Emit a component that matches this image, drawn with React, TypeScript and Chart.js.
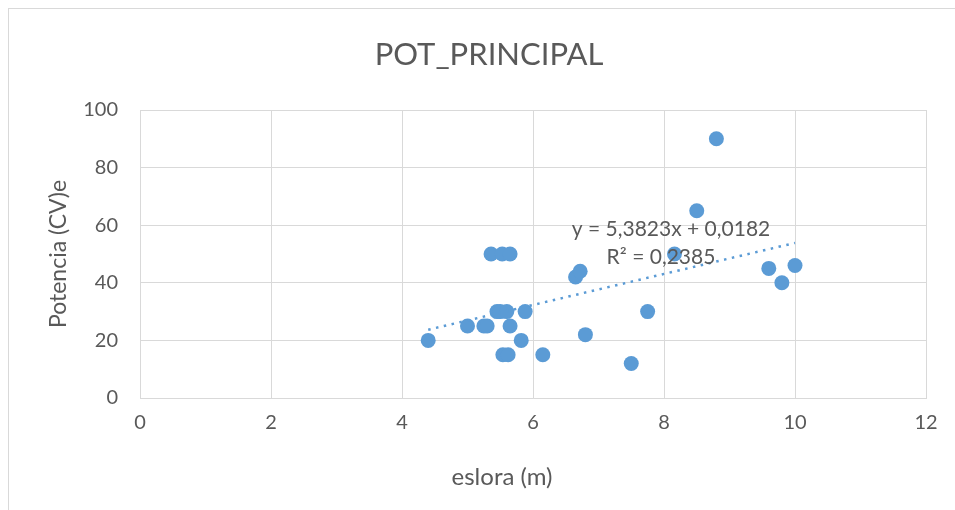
import React, { useEffect, useRef } from "react";
import { Chart, registerables } from "chart.js";

Chart.register(...registerables);

const TITLE = "POT_PRINCIPAL";
const X_TITLE = "eslora (m)";
const Y_TITLE = "Potencia (CV)e";
const EQ_LINE1 = "y = 5,3823x + 0,0182";
const EQ_LINE2 = "R² = 0,2385";

const eslora = [4.4, 5.0, 5.25, 5.3, 5.65, 5.45, 5.5, 5.6, 5.88, 5.36, 5.53, 5.65, 5.82, 5.54, 5.62, 6.15, 6.65, 6.72, 6.8, 7.5, 7.75, 8.16, 8.5, 8.8, 9.6, 9.8, 10.0];
const potencia = [20, 25, 25, 25, 25, 30, 30, 30, 30, 50, 50, 50, 20, 15, 15, 15, 42, 44, 22, 12, 30, 50, 65, 90, 45, 40, 46];

const SLOPE = 5.3823;
const INTERCEPT = 0.0182;
const TREND_X = [4.4, 10.0];

const X_MIN = 0;
const X_MAX = 12;
const X_STEP = 2;
const Y_MIN = 0;
const Y_MAX = 100;
const Y_STEP = 20;

const FONT = "Lato, 'Open Sans', sans-serif";
const TEXT_COLOR = "#595959";
const POINT_COLOR = "#5b9bd5";
const GRID_COLOR = "#d9d9d9";

const textPlugin = {
  id: "textPlugin",
  afterDraw(chart: any) {
    const ctx = chart.ctx;
    ctx.save();
    ctx.fillStyle = TEXT_COLOR;
    ctx.textAlign = "center";
    ctx.textBaseline = "middle";
    ctx.font = `31px ${FONT}`;
    ctx.fillText(TITLE, 489, 55);
    ctx.font = `24px ${FONT}`;
    ctx.fillText(X_TITLE, 502, 477);
    ctx.font = `21px ${FONT}`;
    ctx.fillText(EQ_LINE1, 671, 229);
    ctx.fillText(EQ_LINE2, 661, 257);
    ctx.restore();
  },
};

export default function App() {
  const ref = useRef<HTMLCanvasElement | null>(null);

  useEffect(() => {
    if (!ref.current) return;
    const points = eslora.map((x, i) => ({ x, y: potencia[i] }));
    const trend = TREND_X.map((x) => ({ x, y: SLOPE * x + INTERCEPT }));
    const chart = new Chart(ref.current, {
      type: "scatter",
      data: {
        datasets: [
          {
            type: "line",
            data: trend,
            borderColor: POINT_COLOR,
            borderWidth: 2.5,
            borderDash: [2.5, 5.5],
            pointRadius: 0,
            fill: false,
            order: 0,
          } as any,
          {
            data: points,
            backgroundColor: POINT_COLOR,
            borderColor: POINT_COLOR,
            pointRadius: 7.5,
            pointHoverRadius: 7.5,
            borderWidth: 0,
            order: 1,
          },
        ],
      },
      options: {
        animation: false,
        responsive: false,
        maintainAspectRatio: false,
        layout: { padding: { left: 0, right: 29, top: 110, bottom: 0 } },
        plugins: {
          legend: { display: false },
          tooltip: { enabled: false },
          title: { display: false },
        },
        scales: {
          x: {
            type: "linear",
            min: X_MIN,
            max: X_MAX,
            afterFit: (s: any) => {
              s.height = 112;
            },
            ticks: {
              stepSize: X_STEP,
              color: TEXT_COLOR,
              font: { family: FONT, size: 20 },
              padding: 13,
            },
            grid: { color: GRID_COLOR, lineWidth: 1, drawTicks: false },
            border: { color: GRID_COLOR, width: 1 },
            title: { display: false, text: X_TITLE },
          },
          y: {
            type: "linear",
            min: Y_MIN,
            max: Y_MAX,
            afterFit: (s: any) => {
              s.width = 140;
            },
            ticks: {
              stepSize: Y_STEP,
              color: TEXT_COLOR,
              font: { family: FONT, size: 20 },
              padding: 22,
            },
            grid: { color: GRID_COLOR, lineWidth: 1, drawTicks: false },
            border: { color: GRID_COLOR, width: 1 },
            title: {
              display: true,
              text: Y_TITLE,
              color: TEXT_COLOR,
              font: { family: FONT, size: 23 },
              padding: { top: 45, bottom: 0 },
            },
          },
        },
      },
      plugins: [textPlugin],
    });
    return () => chart.destroy();
  }, []);

  return (
    <div>
      <div
        style={{
          position: "fixed",
          left: 8,
          top: 8,
          width: 990,
          height: 540,
          border: `1px solid ${GRID_COLOR}`,
          boxSizing: "border-box",
          background: "#fff",
        }}
      />
      <canvas
        ref={ref}
        width={955}
        height={510}
        style={{ position: "fixed", left: 0, top: 0, width: 955, height: 510 }}
      />
    </div>
  );
}
